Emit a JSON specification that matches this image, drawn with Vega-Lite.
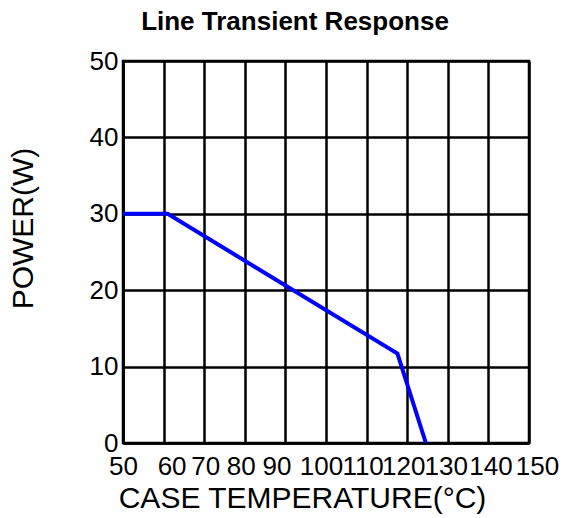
{
  "$schema": "https://vega.github.io/schema/vega-lite/v6.json",
  "width": 406,
  "height": 382,
  "autosize": {"type": "none"},
  "padding": {"left": 123, "top": 61, "right": 35, "bottom": 75},
  "background": "white",
  "title": {
    "text": "Line Transient Response",
    "font": "Liberation Sans",
    "fontSize": 26,
    "fontWeight": "bold",
    "color": "black",
    "anchor": "middle",
    "frame": "group",
    "baseline": "alphabetic",
    "offset": 0,
    "dx": -31,
    "dy": 8
  },
  "config": {
    "view": {"stroke": "black", "strokeWidth": 2.5},
    "axis": {
      "labelFont": "Liberation Sans",
      "titleFont": "Liberation Sans",
      "labelColor": "black",
      "titleColor": "black",
      "titleFontWeight": "normal",
      "domainColor": "black",
      "domainWidth": 2.5,
      "gridColor": "black",
      "gridWidth": 2.5,
      "gridOpacity": 1,
      "ticks": false
    }
  },
  "data": {
    "values": [
      {"temp": 50, "power": 30},
      {"temp": 61, "power": 30},
      {"temp": 117.6, "power": 11.7},
      {"temp": 124.6, "power": 0}
    ]
  },
  "mark": {"type": "line", "color": "#0000ff", "strokeWidth": 4, "strokeJoin": "miter", "clip": true},
  "encoding": {
    "x": {
      "field": "temp",
      "type": "quantitative",
      "scale": {"domain": [50, 150], "nice": false, "zero": false},
      "axis": {
        "title": "CASE TEMPERATURE(°C)",
        "titleFontSize": 30,
        "titleBaseline": "alphabetic",
        "titleX": 179,
        "titleY": 64,
        "values": [50, 60, 70, 80, 90, 100, 110, 120, 130, 140, 150],
        "labelFontSize": 26,
        "labelPadding": 10,
        "labelFlush": false,
        "labelOverlap": false,
        "labelOffset": {"expr": "datum.value == 60 ? 8 : datum.value == 70 ? 1 : datum.value == 80 ? -4 : datum.value == 90 ? -9 : datum.value == 100 ? -5 : datum.value == 110 ? -4 : datum.value == 120 ? -4 : datum.value == 130 ? -2 : datum.value == 140 ? 2 : datum.value == 150 ? 8 : 0"}
      }
    },
    "y": {
      "field": "power",
      "type": "quantitative",
      "scale": {"domain": [0, 50], "nice": false},
      "axis": {
        "title": "POWER(W)",
        "titleFontSize": 30,
        "titleX": -85,
        "titleY": 167,
        "titleAlign": "center",
        "titleBaseline": "bottom",
        "titleAngle": -90,
        "values": [0, 10, 20, 30, 40, 50],
        "labelFontSize": 26,
        "labelPadding": 5,
        "labelFlush": false,
        "labelOverlap": false
      }
    }
  }
}
